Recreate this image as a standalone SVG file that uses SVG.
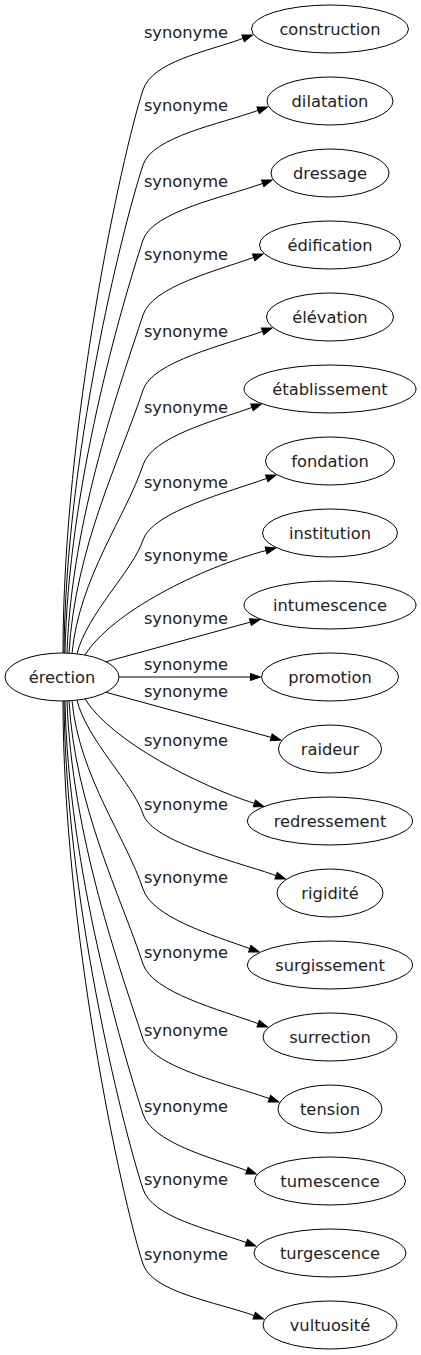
<svg xmlns="http://www.w3.org/2000/svg" width="421" height="1355" viewBox="0 0 421 1355">
<style>
.n ellipse{fill:#fff;stroke:#000;stroke-width:1}
.n text,.lbl{font-family:"DejaVu Sans","Liberation Sans",sans-serif;font-size:16.3px;fill:#222;text-anchor:middle}
.e{fill:none;stroke:#000;stroke-width:1;marker-end:url(#ah)}
</style>
<defs>
<marker id="ah" markerUnits="userSpaceOnUse" markerWidth="12" markerHeight="9" refX="0" refY="3.5" orient="auto" overflow="visible">
<path d="M0,0 L10,3.5 L0,7 Z" fill="#000" stroke="#000" stroke-width="1"/>
</marker>
</defs>
<rect width="421" height="1355" fill="#fff"/>
<g id="connectors">
<path class="e" d="M63,653 C63,427.8 121.3,156.5 143,90 C152.3,61.5 205.5,52 243.1,38.4"/>
<path class="e" d="M64,653 C65.6,457.8 121.3,231.5 143,165 C152.3,136.5 220.5,124 258.1,110.4"/>
<path class="e" d="M65,653 C68.1,487.8 121.3,306.5 143,240 C152.3,211.5 225.1,197 262.7,183.4"/>
<path class="e" d="M67,653.1 C71.6,517.9 121.3,381.5 143,315 C152.3,286.5 216.1,271 253.7,257.4"/>
<path class="e" d="M69,653.2 C74.9,547.9 121.3,456.5 143,390 C152.3,361.5 225,345 262.6,331.4"/>
<path class="e" d="M72,653.4 C79.1,578 126.6,515.1 143,465 C152.3,436.5 214.4,421 252,407.4"/>
<path class="e" d="M77,653.8 C86.9,614 133.1,570.3 143,540 C152.3,511.5 229.1,492 266.7,478.4"/>
<path class="e" d="M85,655 C112,612 200,568 266.1,550.5"/>
<path class="e" d="M106,661.7 L250.4,622.1"/>
<path class="e" d="M119,677 L250.5,677"/>
<path class="e" d="M106,692.3 L271.2,737.4"/>
<path class="e" d="M85,699 C112,742 200,786 254.4,803.4"/>
<path class="e" d="M77,700.2 C86.9,740 133.1,783.7 143,814 C152.3,842.5 238.5,862 276.1,875.6"/>
<path class="e" d="M72,700.6 C79.1,776 126.6,838.9 143,889 C152.3,917.5 212.2,935 249.8,948.6"/>
<path class="e" d="M69,700.8 C74.9,806.1 121.3,897.5 143,964 C152.3,992.5 220.6,1010 258.2,1023.6"/>
<path class="e" d="M67,700.9 C71.6,836.1 121.3,972.5 143,1039 C152.3,1067.5 231.8,1085 269.4,1098.6"/>
<path class="e" d="M65,701 C68.1,866.2 121.3,1047.5 143,1114 C152.3,1142.5 209.3,1157 246.9,1170.6"/>
<path class="e" d="M64,701 C65.6,896.2 121.3,1122.5 143,1189 C152.3,1217.5 208.8,1229 246.4,1242.6"/>
<path class="e" d="M63,701 C63,926.2 121.3,1197.5 143,1264 C152.3,1292.5 216.6,1302 254.2,1315.6"/>
<text class="lbl" x="186" y="38">synonyme</text>
<text class="lbl" x="186" y="111">synonyme</text>
<text class="lbl" x="186" y="187">synonyme</text>
<text class="lbl" x="186" y="260">synonyme</text>
<text class="lbl" x="186" y="337">synonyme</text>
<text class="lbl" x="186" y="413">synonyme</text>
<text class="lbl" x="186" y="488">synonyme</text>
<text class="lbl" x="186" y="561">synonyme</text>
<text class="lbl" x="186" y="624">synonyme</text>
<text class="lbl" x="186" y="670">synonyme</text>
<text class="lbl" x="186" y="697">synonyme</text>
<text class="lbl" x="186" y="746">synonyme</text>
<text class="lbl" x="186" y="810">synonyme</text>
<text class="lbl" x="186" y="883">synonyme</text>
<text class="lbl" x="186" y="958">synonyme</text>
<text class="lbl" x="186" y="1036">synonyme</text>
<text class="lbl" x="186" y="1112">synonyme</text>
<text class="lbl" x="186" y="1185">synonyme</text>
<text class="lbl" x="186" y="1260">synonyme</text>
</g>
<g id="node-erection" class="n"><ellipse cx="62" cy="677" rx="57" ry="24"/><text x="62" y="682.5">érection</text></g>
<g id="node-construction" class="n"><ellipse cx="330" cy="29" rx="78.5" ry="24"/><text x="330" y="34.5">construction</text></g>
<g id="node-dilatation" class="n"><ellipse cx="330" cy="101" rx="63" ry="24"/><text x="330" y="106.5">dilatation</text></g>
<g id="node-dressage" class="n"><ellipse cx="330" cy="173" rx="59" ry="24"/><text x="330" y="178.5">dressage</text></g>
<g id="node-edification" class="n"><ellipse cx="330" cy="245" rx="70.5" ry="24"/><text x="330" y="250.5">édification</text></g>
<g id="node-elevation" class="n"><ellipse cx="330" cy="317" rx="63.5" ry="24"/><text x="330" y="322.5">élévation</text></g>
<g id="node-etablissement" class="n"><ellipse cx="330" cy="389" rx="86" ry="24"/><text x="330" y="394.5">établissement</text></g>
<g id="node-fondation" class="n"><ellipse cx="330" cy="461" rx="64.5" ry="24"/><text x="330" y="466.5">fondation</text></g>
<g id="node-institution" class="n"><ellipse cx="330" cy="533" rx="67.5" ry="24"/><text x="330" y="538.5">institution</text></g>
<g id="node-intumescence" class="n"><ellipse cx="330" cy="605" rx="86" ry="24"/><text x="330" y="610.5">intumescence</text></g>
<g id="node-promotion" class="n"><ellipse cx="330" cy="677" rx="68.5" ry="24"/><text x="330" y="682.5">promotion</text></g>
<g id="node-raideur" class="n"><ellipse cx="330" cy="749" rx="51.5" ry="24"/><text x="330" y="754.5">raideur</text></g>
<g id="node-redressement" class="n"><ellipse cx="330" cy="821" rx="82.5" ry="24"/><text x="330" y="826.5">redressement</text></g>
<g id="node-rigidite" class="n"><ellipse cx="330" cy="893" rx="53" ry="24"/><text x="330" y="898.5">rigidité</text></g>
<g id="node-surgissement" class="n"><ellipse cx="330" cy="965" rx="82.5" ry="24"/><text x="330" y="970.5">surgissement</text></g>
<g id="node-surrection" class="n"><ellipse cx="330" cy="1037" rx="67" ry="24"/><text x="330" y="1042.5">surrection</text></g>
<g id="node-tension" class="n"><ellipse cx="330" cy="1109" rx="52" ry="24"/><text x="330" y="1114.5">tension</text></g>
<g id="node-tumescence" class="n"><ellipse cx="330" cy="1181" rx="75.5" ry="24"/><text x="330" y="1186.5">tumescence</text></g>
<g id="node-turgescence" class="n"><ellipse cx="330" cy="1253" rx="76" ry="24"/><text x="330" y="1258.5">turgescence</text></g>
<g id="node-vultuosite" class="n"><ellipse cx="330" cy="1325" rx="67" ry="24"/><text x="330" y="1330.5">vultuosité</text></g>
</svg>
